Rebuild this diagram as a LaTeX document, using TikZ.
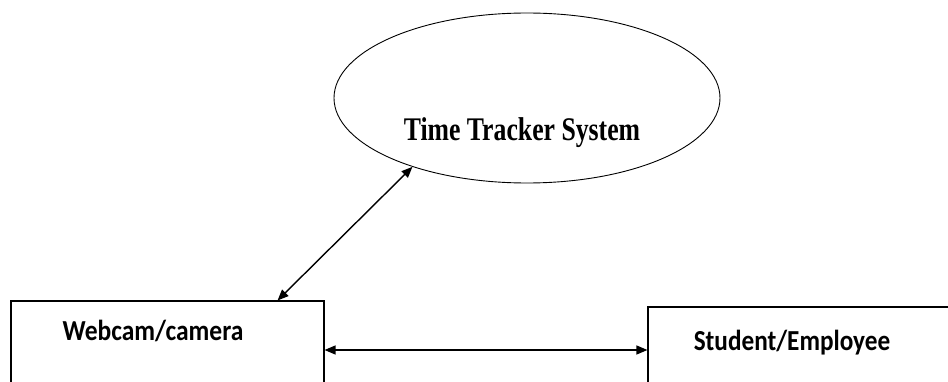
\documentclass[tikz,border=0pt]{standalone}
\usepackage{graphicx}
\usepackage{fontspec}
\setmainfont{Liberation Serif}
\newfontfamily\boxfont{Carlito}
\usetikzlibrary{shapes.geometric,arrows.meta,calc}
\tikzset{
  ell/.style={draw, line width=0.9pt, ellipse, minimum width=386pt, minimum height=170pt, inner sep=0pt},
  boxnode/.style={draw, line width=1.1pt, rectangle, inner sep=0pt},
  conn/.style={line width=1.4pt, {Triangle[length=11pt,width=9pt]}-{Triangle[length=11pt,width=9pt]}},
  ttxt/.style={font=\fontsize{33}{35}\selectfont\bfseries, inner sep=0pt},
  btxt/.style={font=\boxfont\fontsize{29}{31}\selectfont\bfseries, inner sep=0pt},
}
\begin{document}
\begin{tikzpicture}[x=1pt,y=-1pt]
\useasboundingbox (0,0) rectangle (948,382);
\clip (0,0) rectangle (948,382);
\node[ell] (tts) at (527,98) {};
\node[ttxt] (ttl) at (522,133) {\scalebox{0.78}[1]{Time Tracker System}};
\node[boxnode, minimum width=313pt, minimum height=98pt] (wc) at (167.5,350) {};
\node[btxt] (wcl) at (153,331) {\scalebox{0.88}[1]{Webcam/camera}};
\node[boxnode, minimum width=312pt, minimum height=86pt] (se) at (804,350) {};
\node[btxt] (sel) at (792,343) {\scalebox{0.87}[1]{Student/Employee}};
\draw[conn] ([xshift=-47pt]wc.north east) -- (tts.211);
\draw[conn] (wc.east) -- (se.west);
\end{tikzpicture}
\end{document}
